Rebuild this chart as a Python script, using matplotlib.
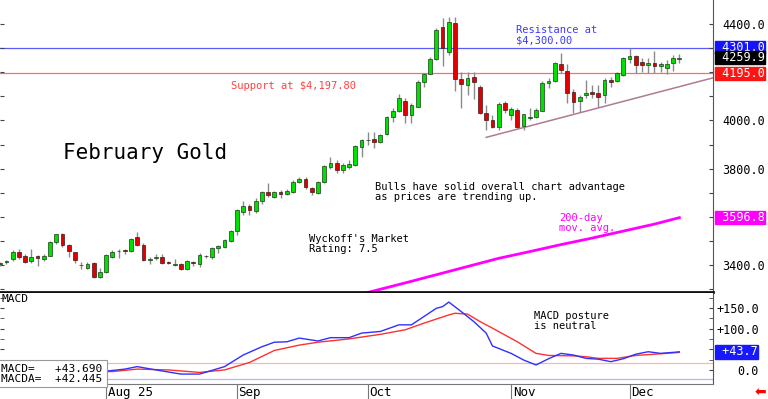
import matplotlib
matplotlib.use("Agg")
import matplotlib.pyplot as plt
import matplotlib.transforms as mtransforms
import numpy as np

# daily bars, mid-July 2025 .. Dec 11 2025 (index = trading day)
opens = [3403, 3411, 3424, 3455, 3437, 3417, 3437, 3424, 3439, 3496,
         3528, 3484, 3453, 3399, 3389, 3407, 3349, 3370, 3435, 3457,
         3461, 3459, 3517, 3483, 3422, 3431, 3432, 3411, 3400, 3404,
         3382, 3413, 3404, 3438, 3435, 3472, 3476, 3501, 3542, 3622,
         3646, 3624, 3666, 3704, 3684, 3704, 3695, 3704, 3745, 3757,
         3718, 3700, 3746, 3805, 3825, 3794, 3808, 3815, 3888, 3917,
         3922, 3911, 3944, 4014, 4039, 4081, 4023, 4056, 4160, 4193,
         4255, 4387, 4284, 4404, 4172, 4147, 4180, 4139, 4031, 4002,
         3973, 4072, 4023, 4043, 3977, 4012, 4014, 4039, 4155, 4164,
         4234, 4205, 4118, 4081, 4106, 4118, 4114, 4106, 4168, 4164,
         4188, 4255, 4267, 4242, 4230, 4238, 4226, 4217, 4238, 4257]
highs = [3412, 3420, 3462, 3465, 3445, 3468, 3441, 3445, 3500, 3531,
         3533, 3488, 3456, 3411, 3411, 3414, 3389, 3445, 3462, 3466,
         3466, 3511, 3538, 3490, 3435, 3444, 3444, 3418, 3424, 3407,
         3421, 3418, 3449, 3442, 3473, 3483, 3508, 3546, 3631, 3666,
         3652, 3680, 3708, 3739, 3708, 3712, 3715, 3752, 3766, 3766,
         3725, 3750, 3815, 3849, 3836, 3822, 3835, 3898, 3925, 3953,
         3953, 3945, 4018, 4050, 4112, 4093, 4071, 4168, 4197, 4264,
         4382, 4425, 4430, 4428, 4202, 4202, 4202, 4147, 4064, 4022,
         4075, 4080, 4057, 4050, 4029, 4050, 4052, 4165, 4175, 4244,
         4281, 4234, 4130, 4105, 4168, 4147, 4147, 4175, 4181, 4202,
         4265, 4300, 4271, 4258, 4258, 4289, 4244, 4251, 4271, 4275]
lows = [3396, 3406, 3417, 3425, 3407, 3407, 3398, 3418, 3436, 3486,
        3477, 3435, 3407, 3383, 3384, 3347, 3345, 3366, 3430, 3428,
        3444, 3455, 3479, 3418, 3404, 3421, 3404, 3404, 3395, 3380,
        3380, 3397, 3393, 3430, 3425, 3450, 3470, 3497, 3525, 3606,
        3606, 3617, 3652, 3682, 3678, 3678, 3690, 3700, 3740, 3717,
        3690, 3697, 3742, 3799, 3781, 3781, 3797, 3811, 3849, 3899,
        3884, 3905, 3940, 3995, 4036, 3989, 3988, 4054, 4137, 4193,
        4251, 4226, 4270, 4123, 4051, 4105, 4089, 4027, 3960, 3967,
        3960, 4031, 4002, 3967, 3960, 4002, 4010, 4039, 4133, 4160,
        4197, 4072, 4031, 4036, 4092, 4092, 4057, 4071, 4140, 4160,
        4184, 4237, 4196, 4202, 4197, 4198, 4202, 4193, 4206, 4237]
closes = [3408, 3415, 3455, 3432, 3414, 3434, 3428, 3437, 3496, 3528,
          3484, 3458, 3421, 3401, 3404, 3352, 3372, 3442, 3455, 3460,
          3459, 3507, 3483, 3421, 3425, 3433, 3407, 3409, 3402, 3382,
          3417, 3410, 3442, 3436, 3469, 3479, 3504, 3542, 3628, 3646,
          3628, 3665, 3703, 3690, 3704, 3697, 3708, 3746, 3757, 3722,
          3702, 3746, 3811, 3822, 3794, 3815, 3819, 3894, 3919, 3920,
          3909, 3940, 4014, 4039, 4093, 4023, 4064, 4160, 4193, 4255,
          4375, 4300, 4408, 4172, 4151, 4176, 4160, 4031, 4002, 3973,
          4068, 4043, 4047, 3973, 4027, 4016, 4043, 4155, 4164, 4238,
          4209, 4114, 4077, 4097, 4114, 4110, 4097, 4168, 4160, 4197,
          4259, 4267, 4230, 4230, 4238, 4226, 4234, 4234, 4259, 4259.9]

# 200-day moving average (visible part)
ma_idx = [55, 60, 65, 70, 75, 80, 85, 90, 95, 100, 105, 109]
ma_val = [3260, 3293, 3326, 3360, 3394, 3428, 3456, 3485, 3512, 3541, 3570, 3596.8]

# uptrend line
trend_idx = [78, 114.4]
trend_val = [3930, 4177]

support = 4195.0
resistance = 4301.0

# MACD and its average
macd_idx = [10, 17, 20, 22, 25, 29, 32, 36, 39, 42, 44, 46, 48, 51, 53, 56, 58,
            61, 64, 66, 68, 70, 71, 72, 74, 76, 78, 79, 82, 84, 86, 88, 90, 92,
            94, 96, 98, 100, 102, 104, 106, 109]
macd_val = [-6, -3, 2, 8, 0, -10, -10, 8, 36, 56, 67, 68, 77, 70, 78, 78, 89,
            93, 109, 109, 129, 149, 153, 164, 141, 117, 89, 58, 40, 24, 12, 27,
            40, 36, 28, 26, 20, 27, 38, 44, 40, 43.69]
sig_idx = [10, 18, 22, 27, 32, 36, 40, 44, 48, 51, 56, 61, 65, 68, 72, 73, 75,
           77, 79, 83, 86, 88, 92, 94, 96, 99, 102, 105, 109]
sig_val = [-3, -4, 2, 0, -6, 0, 18, 47, 60, 67, 75, 86, 97, 113, 133, 137, 135,
           117, 101, 68, 40, 35, 34, 32, 28, 28, 35, 38, 42.445]

month_idx = [17, 38, 59, 82, 101]
month_lab = ["Aug 25", "Sep", "Oct", "Nov", "Dec"]

mono = "DejaVu Sans Mono"

fig = plt.figure(figsize=(7.68, 3.99), dpi=100)
ax = fig.add_axes([0, 0.268, 0.9284, 0.732])
ax2 = fig.add_axes([0, 0.0376, 0.9284, 0.2281])

# ---- price panel ----
x = np.arange(len(closes))
o = np.array(opens, dtype=float)
c = np.array(closes, dtype=float)
up = c >= o
ax.vlines(x, lows, highs, color="#8a8a8a", lw=1, zorder=2)
body = np.maximum(np.abs(c - o), 2.5)
bot = np.minimum(o, c)
ax.bar(x[up], body[up], bottom=bot[up], width=0.6, color="#00e000",
       edgecolor="#1a3a1a", lw=0.5, zorder=3)
ax.bar(x[~up], body[~up], bottom=bot[~up], width=0.6, color="#e00000",
       edgecolor="#3a1a1a", lw=0.5, zorder=3)

ax.axhline(resistance, color="#5a5aff", lw=0.9, zorder=1)
ax.axhline(support, color="#ff6b6b", lw=0.9, zorder=1)
ax.plot(trend_idx, trend_val, color="#b07a95", lw=1.1, zorder=1)
ax.plot(ma_idx, ma_val, color="#ff00ff", lw=2, zorder=2)

ax.set_xlim(-0.03, 114.4)
ax.set_ylim(3288, 4500)
ax.set_xticks([])
ax.set_yticks(np.arange(3300, 4500, 100))
ax.set_yticklabels([f"{v:.1f}" if v in (3400, 3800, 4000, 4400) else ""
                    for v in np.arange(3300, 4500, 100)])
ax.tick_params(axis="y", left=True, right=True, labelleft=False, labelright=True,
               direction="in", length=3, color="#444444", pad=6.5)
for lb in ax.get_yticklabels():
    lb.set_fontfamily(mono)
    lb.set_fontsize(8.5)
ax.spines["top"].set_visible(False)
ax.spines["left"].set_visible(False)
ax.spines["right"].set_color("#555555")
ax.spines["bottom"].set_linewidth(2)
ax.spines["bottom"].set_color("#111111")

ax.text(0.088, 0.476, "February Gold", transform=ax.transAxes, fontsize=15,
        family=mono, va="center", ha="left")
ax.text(0.324, 0.705, "Support at $4,197.80", transform=ax.transAxes,
        fontsize=7.5, family=mono, color="#ff4040", va="center")
ax.text(0.724, 0.913, "Resistance at\n$4,300.00", transform=ax.transAxes,
        fontsize=7.5, family=mono, color="#3a3aff", va="top", linespacing=1.0)
ax.text(0.526, 0.378, "Bulls have solid overall chart advantage\nas prices are trending up.",
        transform=ax.transAxes, fontsize=7.5, family=mono, va="top", linespacing=1.0)
ax.text(0.433, 0.198, "Wyckoff's Market\nRating: 7.5", transform=ax.transAxes,
        fontsize=7.5, family=mono, va="top", linespacing=1.0)
ax.text(0.784, 0.272, "200-day\nmov. avg.", transform=ax.transAxes,
        fontsize=7.5, family=mono, color="#ff00ff", va="top", linespacing=1.0)

trans = mtransforms.blended_transform_factory(ax.transAxes, ax.transData)
boxes = [(resistance, "4301.0", "#1414ff", 1),
         (closes[-1], "4259.9", "#000000", 2),
         (support, "4195.0", "#ff1414", 3),
         (ma_val[-1], "3596.8", "#ff00ff", 3)]
for val, txt, col, z in boxes:
    ax.text(1.003, val, " " + txt, transform=trans, fontsize=8.5, family=mono,
            color="white", va="center", ha="left", clip_on=False, zorder=10 + z,
            bbox=dict(boxstyle="square,pad=0.0", fc=col, ec=col))

# ---- MACD panel ----
ax2.plot(sig_idx, sig_val, color="#ff3030", lw=1)
ax2.plot(macd_idx, macd_val, color="#3030ff", lw=1)
ax2.axhline(17, color="#ffb4b4", lw=0.9, zorder=0)
ax2.axhline(-22.5, color="#b4b4ff", lw=0.9, zorder=0)
ax2.set_xlim(-0.03, 114.4)
ax2.set_ylim(-34, 186)
ax2.set_yticks([0, 50, 100, 150])
ax2.set_yticklabels(["0.0", "", "+100.0", "+150.0"])
ax2.set_yticks([25, 75, 125, 175], minor=True)
ax2.tick_params(axis="y", which="both", left=True, right=True, labelleft=False,
                labelright=True, direction="in", length=3, color="#444444", pad=33)
for lb in ax2.get_yticklabels():
    lb.set_fontfamily(mono)
    lb.set_fontsize(8.5)
    lb.set_horizontalalignment("right")
ax2.set_xticks(month_idx)
ax2.set_xticklabels([])
ax2.tick_params(axis="x", direction="out", length=11, color="#777777")
for m, lab in zip(month_idx, month_lab):
    ax2.text(m + 0.25, -0.09, lab, transform=mtransforms.blended_transform_factory(
        ax2.transData, ax2.transAxes), fontsize=9, family=mono, va="center", ha="left")
ax2.spines["top"].set_visible(False)
ax2.spines["left"].set_visible(False)
ax2.spines["right"].set_color("#555555")
ax2.spines["bottom"].set_color("#777777")

ax2.text(0.002, 0.934, "MACD", transform=ax2.transAxes, fontsize=8, family=mono,
         va="center")
ax2.text(0.749, 0.80, "MACD posture\nis neutral", transform=ax2.transAxes,
         fontsize=7.5, family=mono, va="top", linespacing=1.0)
ax2.text(0.002, 0.115, "MACD=   +43.690\nMACDA=  +42.445", transform=ax2.transAxes,
         fontsize=8, family=mono, va="center", ha="left", linespacing=1.0, zorder=10,
         bbox=dict(boxstyle="square,pad=0.35", fc="white", ec="#999999", lw=0.8))
trans2 = mtransforms.blended_transform_factory(ax2.transAxes, ax2.transData)
ax2.text(1.003, macd_val[-1], " +43.7", transform=trans2, fontsize=8.5, family=mono,
         color="white", va="center", ha="left", clip_on=False, zorder=10,
         bbox=dict(boxstyle="square,pad=0.04", fc="#1818ff", ec="#1818ff"))

fig.text(0.99, 0.018, "\u2b05", color="#ff0000", fontsize=10, ha="center",
         va="center", family=["DejaVu Sans"])

fig.savefig("out.png", dpi=100, facecolor="white")
